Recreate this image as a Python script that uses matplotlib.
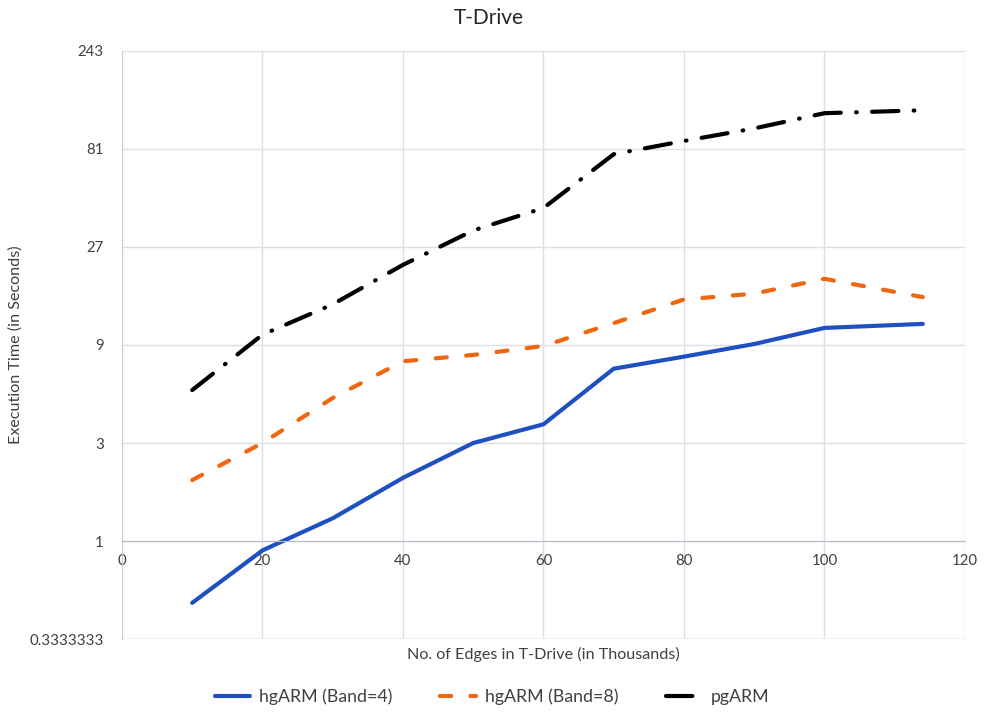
import matplotlib
matplotlib.use('Agg')
import matplotlib.pyplot as plt
from matplotlib.ticker import FixedLocator, FixedFormatter, NullLocator

plt.rcParams['font.family'] = ['Lato', 'DejaVu Sans']
plt.rcParams['lines.scale_dashes'] = False

# execution times (seconds) per edge count (thousands)
edges = [10, 20, 30, 40, 50, 60, 70, 80, 90, 100, 114]
hgarm_band4 = [0.5, 0.9, 1.29, 2.03, 3.0, 3.7, 6.9, 7.9, 9.1, 10.9, 11.4]
hgarm_band8 = [1.98, 3.0, 4.97, 7.5, 8.05, 8.9, 11.5, 15.0, 16.0, 18.9, 15.4]
pgarm = [5.43, 10.1, 14.2, 22.1, 32.5, 41.8, 76.4, 88.6, 102, 121, 125]

y_ticks = [1 / 3, 1, 3, 9, 27, 81, 243]
y_labels = ['0.3333333', '1', '3', '9', '27', '81', '243']
x_ticks = [0, 20, 40, 60, 80, 100, 120]

text_color = '#404040'
grid_color = '#dcdee8'

fig = plt.figure(figsize=(9.9, 7.12), dpi=100)
ax = fig.add_axes([0.1232, 0.1025, 0.8515, 0.8259])

ax.plot(edges, hgarm_band4, color='#1f50c2', lw=3.0, solid_capstyle='round',
        label='hgARM (Band=4)')
ax.plot(edges, hgarm_band8, color='#f0650f', lw=3.0, linestyle=(0, (8, 14)),
        dash_capstyle='round', label='hgARM (Band=8)')
ax.plot(edges, pgarm, color='black', lw=3.0, linestyle=(0, (19, 11, 0.5, 11)),
        dash_capstyle='round', label='pgARM')

ax.set_yscale('log', base=3)
ax.set_ylim(1 / 3, 243)
ax.set_xlim(0, 120)
ax.yaxis.set_major_locator(FixedLocator(y_ticks))
ax.yaxis.set_major_formatter(FixedFormatter(y_labels))
ax.yaxis.set_minor_locator(NullLocator())
ax.xaxis.set_major_locator(FixedLocator(x_ticks))

ax.grid(True, color=grid_color, lw=1.0)
ax.set_axisbelow(True)

# horizontal axis crosses at y = 1
for side in ['top', 'right']:
    ax.spines[side].set_visible(False)
ax.spines['bottom'].set_position(('data', 1))
ax.spines['bottom'].set_color('#b8bccb')
ax.spines['left'].set_color('#c8ccd8')
ax.axhline(1 / 3, color=grid_color, lw=1.0, zorder=0)

ax.tick_params(axis='both', length=0, labelsize=10.8, labelcolor=text_color)
ax.tick_params(axis='x', pad=9)
ax.tick_params(axis='y', pad=13)

fig.text(0.494, 0.975, 'T-Drive', ha='center', va='center', fontsize=15,
         color='#262626')
fig.text(0.5485, 0.081, 'No. of Edges in T-Drive (in Thousands)', ha='center',
         va='center', fontsize=11.6, color=text_color)
fig.text(0.016, 0.5155, 'Execution Time (in Seconds)', ha='center', va='center',
         rotation=90, fontsize=11.6, color=text_color)

fig.legend(loc='center', bbox_to_anchor=(0.497, 0.021), ncol=3, frameon=False,
           fontsize=12.8, handlelength=2.0, handletextpad=0.5,
           columnspacing=2.7, labelcolor=text_color)

fig.savefig('out.png', dpi=100)
